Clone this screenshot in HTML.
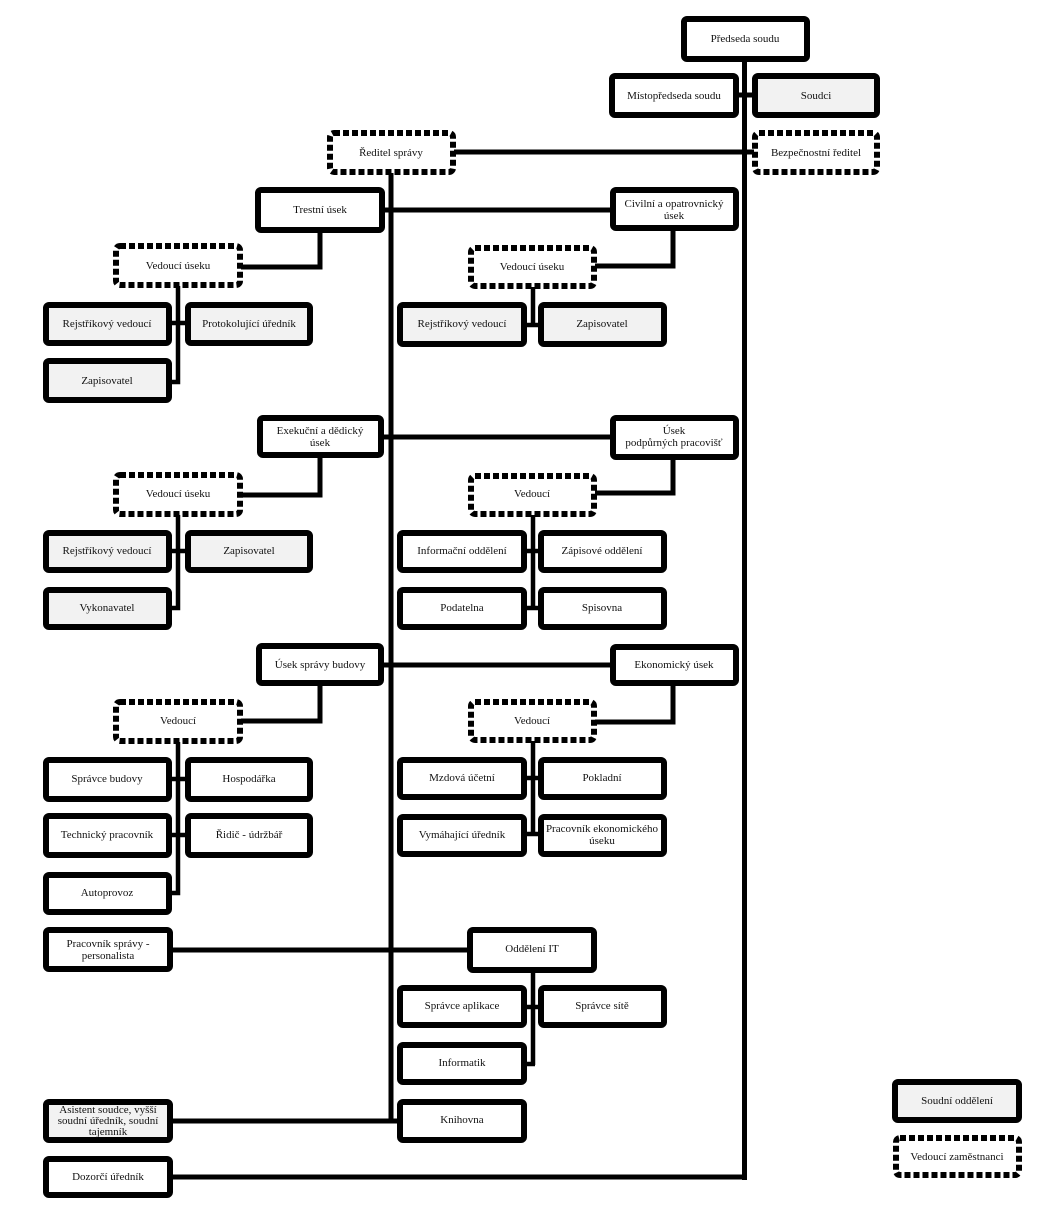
<!DOCTYPE html>
<html><head><meta charset="utf-8">
<style>
html,body{margin:0;padding:0;background:#fff;}
svg{display:block;}
text{font-family:"Liberation Serif",serif;font-size:11px;fill:#111;}
</style></head>
<body>
<svg width="1060" height="1217" viewBox="0 0 1060 1217" xmlns="http://www.w3.org/2000/svg">
<g stroke="#000" stroke-width="5" fill="none" stroke-linecap="butt">
<!-- right vertical -->
<line x1="744.5" y1="60" x2="744.5" y2="1180"/>
<line x1="737" y1="95" x2="754" y2="95"/>
<line x1="454" y1="152" x2="754" y2="152"/>
<!-- main vertical -->
<line x1="391" y1="173" x2="391" y2="1123.5"/>
<line x1="382" y1="210" x2="612" y2="210"/>
<line x1="381" y1="437" x2="612" y2="437"/>
<line x1="381" y1="665" x2="612" y2="665"/>
<line x1="171" y1="950" x2="469" y2="950"/>
<line x1="171" y1="1121" x2="399" y2="1121"/>
<line x1="171" y1="1177" x2="747" y2="1177"/>
<!-- section connectors -->
<polyline points="320,230 320,267 241,267"/>
<polyline points="320,456 320,495 241,495"/>
<polyline points="320,684 320,721 241,721"/>
<polyline points="673,229 673,266 595,266"/>
<polyline points="673,458 673,493 595,493"/>
<polyline points="673,684 673,722 595,722"/>
</g>
<g stroke="#000" stroke-width="4.5" fill="none">
<!-- left subs -->
<polyline points="178,286 178,382 170,382"/>
<line x1="170" y1="323" x2="187" y2="323"/>
<polyline points="178,515 178,608 170,608"/>
<line x1="170" y1="551" x2="187" y2="551"/>
<polyline points="178,742 178,893 170,893"/>
<line x1="170" y1="779" x2="187" y2="779"/>
<line x1="170" y1="835" x2="187" y2="835"/>
<!-- right subs -->
<line x1="533" y1="287" x2="533" y2="325"/>
<line x1="525" y1="325" x2="540" y2="325"/>
<line x1="533" y1="515" x2="533" y2="608"/>
<line x1="525" y1="551" x2="540" y2="551"/>
<line x1="525" y1="608" x2="540" y2="608"/>
<line x1="533" y1="741" x2="533" y2="834"/>
<line x1="525" y1="778" x2="540" y2="778"/>
<line x1="525" y1="834" x2="540" y2="834"/>
<line x1="533" y1="971" x2="533" y2="1065"/>
<line x1="525" y1="1007" x2="540" y2="1007"/>
<line x1="525" y1="1064" x2="535" y2="1064"/>
</g>

<!-- solid boxes: white -->
<g stroke="#000" stroke-width="6" fill="#fff">
<rect x="684" y="19" width="123" height="40" rx="3"/>
<rect x="612" y="76" width="124" height="39" rx="3"/>
<rect x="258" y="190" width="124" height="40" rx="3"/>
<rect x="613" y="190" width="123" height="38" rx="3"/>
<rect x="260" y="418" width="121" height="37" rx="3"/>
<rect x="613" y="418" width="123" height="39" rx="3"/>
<rect x="259" y="646" width="122" height="37" rx="3"/>
<rect x="613" y="647" width="123" height="36" rx="3"/>
<rect x="400" y="533" width="124" height="37" rx="3"/>
<rect x="541" y="533" width="123" height="37" rx="3"/>
<rect x="400" y="590" width="124" height="37" rx="3"/>
<rect x="541" y="590" width="123" height="37" rx="3"/>
<rect x="46" y="760" width="123" height="39" rx="3"/>
<rect x="188" y="760" width="122" height="39" rx="3"/>
<rect x="46" y="816" width="123" height="39" rx="3"/>
<rect x="188" y="816" width="122" height="39" rx="3"/>
<rect x="46" y="875" width="123" height="37" rx="3"/>
<rect x="400" y="760" width="124" height="37" rx="3"/>
<rect x="541" y="760" width="123" height="37" rx="3"/>
<rect x="400" y="817" width="124" height="37" rx="3"/>
<rect x="541" y="817" width="123" height="37" rx="3"/>
<rect x="46" y="930" width="124" height="39" rx="3"/>
<rect x="470" y="930" width="124" height="40" rx="3"/>
<rect x="400" y="988" width="124" height="37" rx="3"/>
<rect x="541" y="988" width="123" height="37" rx="3"/>
<rect x="400" y="1045" width="124" height="37" rx="3"/>
<rect x="400" y="1102" width="124" height="38" rx="3"/>
<rect x="46" y="1159" width="124" height="36" rx="3"/>
</g>
<!-- solid boxes: gray -->
<g stroke="#000" stroke-width="6" fill="#f2f2f2">
<rect x="755" y="76" width="122" height="39" rx="3"/>
<rect x="46" y="305" width="123" height="38" rx="3"/>
<rect x="188" y="305" width="122" height="38" rx="3"/>
<rect x="46" y="361" width="123" height="39" rx="3"/>
<rect x="400" y="305" width="124" height="39" rx="3"/>
<rect x="541" y="305" width="123" height="39" rx="3"/>
<rect x="46" y="533" width="123" height="37" rx="3"/>
<rect x="188" y="533" width="122" height="37" rx="3"/>
<rect x="46" y="590" width="123" height="37" rx="3"/>
<rect x="46" y="1102" width="124" height="38" rx="3"/>
<rect x="895" y="1082" width="124" height="38" rx="3"/>
</g>
<!-- dashed boxes -->
<g stroke="#000" stroke-width="6" fill="#fff" stroke-dasharray="6 3">
<rect x="330" y="133" width="123" height="39" rx="4"/>
<rect x="755" y="133" width="122" height="39" rx="4"/>
<rect x="116" y="246" width="124" height="39" rx="4"/>
<rect x="471" y="248" width="123" height="38" rx="4"/>
<rect x="116" y="475" width="124" height="39" rx="4"/>
<rect x="471" y="476" width="123" height="38" rx="4"/>
<rect x="116" y="702" width="124" height="39" rx="4"/>
<rect x="471" y="702" width="123" height="38" rx="4"/>
<rect x="896" y="1138" width="123" height="37" rx="4"/>
</g>

<g text-anchor="middle" dominant-baseline="central">
<text x="745" y="39">Předseda soudu</text>
<text x="674" y="96">Místopředseda soudu</text>
<text x="816" y="96">Soudci</text>
<text x="391" y="153">Ředitel správy</text>
<text x="816" y="153">Bezpečnostní ředitel</text>
<text x="320" y="210">Trestní úsek</text>
<text x="674" y="204">Civilní a opatrovnický</text>
<text x="674" y="216">úsek</text>
<text x="178" y="266">Vedoucí úseku</text>
<text x="532" y="267">Vedoucí úseku</text>
<text x="107" y="324">Rejstříkový vedoucí</text>
<text x="249" y="324">Protokolující úředník</text>
<text x="107" y="381">Zapisovatel</text>
<text x="462" y="324">Rejstříkový vedoucí</text>
<text x="602" y="324">Zapisovatel</text>
<text x="320" y="431">Exekuční a dědický</text>
<text x="320" y="443">úsek</text>
<text x="674" y="431">Úsek</text>
<text x="674" y="443">podpůrných pracovišť</text>
<text x="178" y="494">Vedoucí úseku</text>
<text x="532" y="494">Vedoucí</text>
<text x="107" y="551">Rejstříkový vedoucí</text>
<text x="249" y="551">Zapisovatel</text>
<text x="107" y="608">Vykonavatel</text>
<text x="462" y="551">Informační oddělení</text>
<text x="602" y="551">Zápisové oddělení</text>
<text x="462" y="608">Podatelna</text>
<text x="602" y="608">Spisovna</text>
<text x="320" y="665">Úsek správy budovy</text>
<text x="674" y="665">Ekonomický úsek</text>
<text x="178" y="721">Vedoucí</text>
<text x="532" y="721">Vedoucí</text>
<text x="107" y="779">Správce budovy</text>
<text x="249" y="779">Hospodářka</text>
<text x="107" y="835">Technický pracovník</text>
<text x="249" y="835">Řidič - údržbář</text>
<text x="107" y="893">Autoprovoz</text>
<text x="462" y="778">Mzdová účetní</text>
<text x="602" y="778">Pokladní</text>
<text x="462" y="835">Vymáhající úředník</text>
<text x="602" y="829">Pracovník ekonomického</text>
<text x="602" y="841">úseku</text>
<text x="108" y="944">Pracovník správy -</text>
<text x="108" y="956">personalista</text>
<text x="532" y="949">Oddělení IT</text>
<text x="462" y="1006">Správce aplikace</text>
<text x="602" y="1006">Správce sítě</text>
<text x="462" y="1063">Informatik</text>
<text x="462" y="1120">Knihovna</text>
<text x="108" y="1110">Asistent soudce, vyšší</text>
<text x="108" y="1121">soudní úředník, soudní</text>
<text x="108" y="1132">tajemník</text>
<text x="108" y="1177">Dozorčí úředník</text>
<text x="957" y="1101">Soudní oddělení</text>
<text x="957" y="1157">Vedoucí zaměstnanci</text>
</g>
</svg>
</body></html>
